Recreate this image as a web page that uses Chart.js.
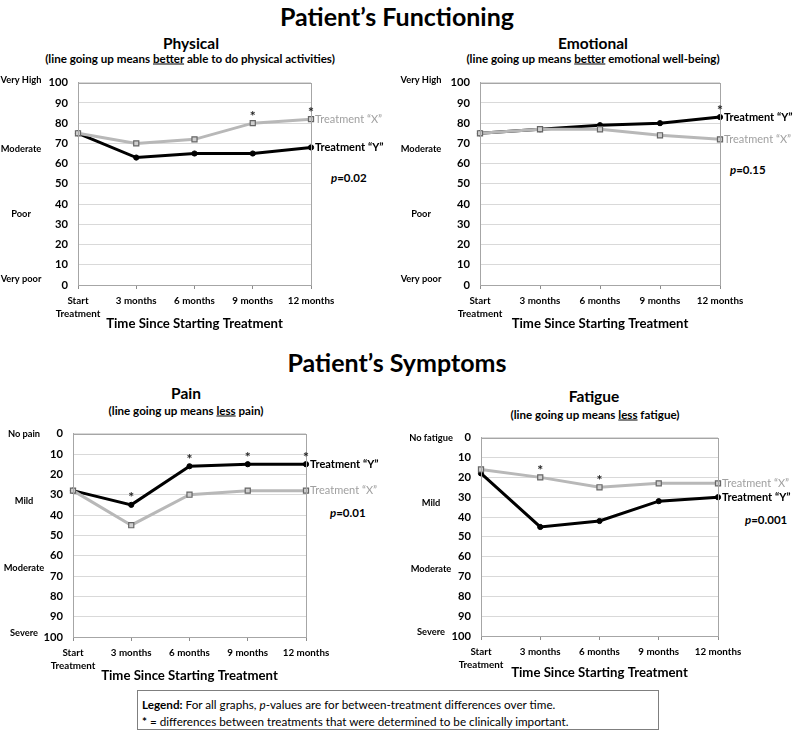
<!DOCTYPE html>
<html><head><meta charset="utf-8">
<script src="https://cdn.jsdelivr.net/npm/chart.js@4.4.1/dist/chart.umd.min.js"></script>
<style>
body{margin:0;width:794px;height:732px;background:#fff;font-family:Lato,'Open Sans',sans-serif;position:relative;overflow:hidden}
.t{position:absolute;white-space:nowrap;transform:translate(-50%,-50%);font-weight:bold;color:#000}
.h1{font-size:25px}
.h2{font-size:15.5px}
.sub{font-size:11.6px}
.p{font-size:11.5px;transform:translate(0,-50%)}
canvas{position:absolute}
#legend{position:absolute;left:137px;top:690px;width:512px;height:33px;border:1px solid #7f7f7f;padding:5px 4px 0 4px;font-size:11.7px;line-height:16.5px;color:#000;box-sizing:content-box;white-space:nowrap}
</style></head><body>
<div class="t h1" style="left:397px;top:16px">Patient’s Functioning</div>
<div class="t h2" style="left:191px;top:43px">Physical</div>
<div class="t sub" style="left:190px;top:58px">(line going up means <u>better</u> able to do physical activities)</div>
<div class="t h2" style="left:593px;top:43px">Emotional</div>
<div class="t sub" style="left:593px;top:58px">(line going up means <u>better</u> emotional well-being)</div>
<div class="t h1" style="left:397px;top:362px">Patient’s Symptoms</div>
<div class="t h2" style="left:186px;top:393px">Pain</div>
<div class="t sub" style="left:186px;top:410px">(line going up means <u>less</u> pain)</div>
<div class="t h2" style="left:594px;top:396px">Fatigue</div>
<div class="t sub" style="left:595px;top:414px">(line going up means <u>less</u> fatigue)</div>
<div class="t p" style="left:331px;top:177px"><i>p</i>=0.02</div>
<div class="t p" style="left:730px;top:169px"><i>p</i>=0.15</div>
<div class="t p" style="left:330px;top:512px"><i>p</i>=0.01</div>
<div class="t p" style="left:745px;top:519px"><i>p</i>=0.001</div>
<div id="legend"><b>Legend:</b> For all graphs, <i>p</i>-values are for between-treatment differences over time.<br><b>*</b> = differences between treatments that were determined to be clinically important.</div>

<canvas id="c1"></canvas><canvas id="c2"></canvas><canvas id="c3"></canvas><canvas id="c4"></canvas>
<script>
// ---- data ----
const categories = [['Start','Treatment'], '3 months', '6 months', '9 months', '12 months'];
const seriesNames = ['Treatment “X”', 'Treatment “Y”'];

const physicalX = [75, 70, 72, 80, 82];
const physicalY = [75, 63, 65, 65, 68];
const physicalStars = [0, 0, 0, 1, 1];

const emotionalX = [75, 77, 77, 74, 72];
const emotionalY = [75, 77, 79, 80, 83];
const emotionalStars = [0, 0, 0, 0, 1];

const painX = [28, 45, 30, 28, 28];
const painY = [28, 35, 16, 15, 15];
const painStars = [0, 1, 1, 1, 1];

const fatigueX = [16, 20, 25, 23, 23];
const fatigueY = [18, 45, 42, 32, 30];
const fatigueStars = [0, 1, 1, 0, 0];

const functioningLevels = ['Very High', 'Moderate', 'Poor', 'Very poor'];
const functioningLevelValues = [101.5, 67, 35, 3];
const painLevels = ['No pain', 'Mild', 'Moderate', 'Severe'];
const fatigueLevels = ['No fatigue', 'Mild', 'Moderate', 'Severe'];
const symptomLevelValues = [0, 33, 66, 98];

const yMin = 0, yMax = 100, yStep = 10;
const xAxisTitle = 'Time Since Starting Treatment';

// ---- layout (page pixels) ----
const panels = [
  {id:'c1', x:0,   area:{l:78, t:81, r:311, b:285}, titleY:324, levelX:21,  xs:physicalX, ys:physicalY, stars:physicalStars, levels:functioningLevels, levelVals:functioningLevelValues, reverse:false},
  {id:'c2', x:397, area:{l:480,t:81, r:720, b:285}, titleY:324, levelX:421, xs:emotionalX, ys:emotionalY, stars:emotionalStars, levels:functioningLevels, levelVals:functioningLevelValues, reverse:false},
  {id:'c3', x:0,   area:{l:73, t:432,r:306, b:637}, titleY:676, levelX:24,  xs:painX, ys:painY, stars:painStars, levels:painLevels, levelVals:symptomLevelValues, reverse:true},
  {id:'c4', x:397, area:{l:481,t:436,r:718, b:636}, titleY:673, levelX:431, xs:fatigueX, ys:fatigueY, stars:fatigueStars, levels:fatigueLevels, levelVals:symptomLevelValues, reverse:true}
];

const FONT = 'Lato, "Open Sans", sans-serif';
Chart.defaults.font.family = FONT;
Chart.defaults.color = '#000';

const decor = {
  id: 'decor',
  afterDraw(chart, args, o) {
    const ctx = chart.ctx, a = chart.chartArea;
    const ys = chart.scales.y;
    ctx.save();
    // plot frame
    ctx.strokeStyle = '#a6a6a6'; ctx.lineWidth = 1;
    ctx.strokeRect(Math.round(a.left)+0.5, Math.round(a.top)+0.5, Math.round(a.right-a.left), Math.round(a.bottom-a.top));
    // level labels
    ctx.font = 'bold 9.3px ' + FONT; ctx.fillStyle = '#000';
    ctx.textAlign = 'center'; ctx.textBaseline = 'middle';
    o.levels.forEach((t, i) => ctx.fillText(t, o.levelX, ys.getPixelForValue(o.levelVals[i])));
    // asterisks
    ctx.font = 'bold 14px ' + FONT; ctx.fillStyle = '#222';
    const m0 = chart.getDatasetMeta(0).data, m1 = chart.getDatasetMeta(1).data;
    o.stars.forEach((s, i) => {
      if (!s) return;
      const top = Math.min(m0[i].y, m1[i].y);
      ctx.fillText('*', m0[i].x, top - 7);
    });
    // series end labels
    ctx.textAlign = 'left';
    chart.data.datasets.forEach((ds, di) => {
      const pts = chart.getDatasetMeta(di).data, last = pts[pts.length-1];
      ctx.font = (di === 1 ? 'bold ' : '') + '11px ' + FONT;
      ctx.fillStyle = di === 1 ? '#000' : '#a0a0a0';
      ctx.fillText(ds.label, last.x + 4, last.y);
    });
    ctx.restore();
  }
};

panels.forEach(p => {
  const cv = document.getElementById(p.id);
  const top = p.area.t - 15, bottom = p.titleY + 12;
  const w = 397, h = bottom - top;
  cv.width = w; cv.height = h;
  cv.style.left = p.x + 'px'; cv.style.top = top + 'px';
  const yW = p.area.l - p.x, xH = bottom - p.area.b;
  new Chart(cv, {
    type: 'line',
    data: {
      labels: categories,
      datasets: [
        {label: seriesNames[0], data: p.xs, order: 1, borderColor: '#b8b8b8', borderWidth: 3,
         pointStyle: 'rect', pointRadius: 3.6, pointBackgroundColor: '#cfcfcf', pointBorderColor: '#666', pointBorderWidth: 1.2, tension: 0},
        {label: seriesNames[1], data: p.ys, order: 2, borderColor: '#000', borderWidth: 3,
         pointStyle: 'circle', pointRadius: 2.6, pointBackgroundColor: '#000', pointBorderColor: '#000', pointBorderWidth: 1, tension: 0}
      ]
    },
    options: {
      responsive: false, animation: false, devicePixelRatio: 1,
      layout: {padding: {left: 0, top: 15, right: p.x + w - p.area.r, bottom: 0}},
      plugins: {legend: {display: false}, tooltip: {enabled: false},
        decor: {levels: p.levels, levelVals: p.levelVals, levelX: p.levelX - p.x, stars: p.stars}},
      scales: {
        x: {
          offset: false,
          afterFit: s => { s.height = xH; },
          grid: {drawOnChartArea: false, drawTicks: true, tickLength: 4, color: '#8c8c8c', offset: false},
          border: {color: '#a6a6a6'},
          ticks: {font: {size: 9.8, weight: 'bold', lineHeight: 1.35}, padding: 5, maxRotation: 0, autoSkip: false, color: '#000'},
          title: {display: true, text: xAxisTitle, font: {size: 13.2, weight: 'bold'}, padding: {top: 0, bottom: 4}, color: '#000'}
        },
        y: {
          min: yMin, max: yMax, reverse: p.reverse,
          afterFit: s => { s.width = yW; },
          grid: {color: '#d9d9d9', drawTicks: false},
          border: {color: '#a6a6a6'},
          ticks: {stepSize: yStep, font: {size: 11.2, weight: 'bold'}, padding: 10, color: '#000'}
        }
      }
    },
    plugins: [decor]
  });
});
</script>
</body></html>
